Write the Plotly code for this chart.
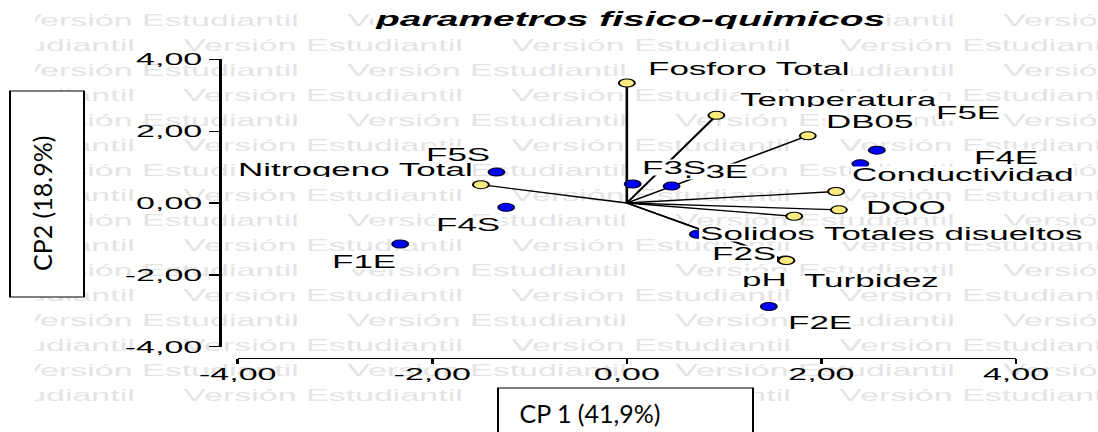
import plotly.graph_objects as go

# ---------------- data ----------------
var_names = ["Nitrogeno Total", "Fosforo Total", "Temperatura", "DB05",
             "Conductividad", "DQO", "Solidos Totales disueltos", "pH", "Turbidez"]
var_cp1 = [-1.50, 0.00, 0.92, 1.86, 2.15, 2.18, 1.72, 1.63, 1.64]
var_cp2 = [0.51, 3.34, 2.44, 1.87, 0.32, -0.19, -0.37, -1.59, -1.60]

sample_names = ["F1E", "F2E", "F3E", "F4E", "F5E", "F2S", "F3S", "F4S", "F5S"]
sample_cp1 = [-2.33, 1.46, 0.46, 2.40, 2.57, 0.73, 0.06, -1.24, -1.34]
sample_cp2 = [-1.14, -2.88, 0.47, 1.09, 1.47, -0.87, 0.53, -0.12, 0.86]

tick_vals = [-4, -2, 0, 2, 4]
tick_text = ["-4,00", "-2,00", "0,00", "2,00", "4,00"]

title_text = "parametros fisico-quimicos"
x_title = "CP 1 (41,9%)"
y_title = "CP2 (18.9%)"
watermark = "Versión Estudiantil"

# ---------------- layout / style ----------------
W_FINAL, H = 1098, 432
SX = 2.0                      # the original SPSS picture is stretched 2x horizontally
W = W_FINAL / SX
FONT = "Liberation Sans, Arial, sans-serif"
TITLE_FONT = "Lato, Carlito, Calibri, sans-serif"
YELLOW = "#fbeb7f"
BLUE = "#0000ff"
WM_COLOR = "#e4e4e4"

# label offsets in px (before the stretch): (xshift, yshift)
var_label_offsets = [(-62.5, 14.7), (61.4, 15.0), (60.9, 15.7), (31.2, 14.6),
                     (63.2, 17.4), (33.7, 2.7), (48.8, -17.3), (-11.2, -19.6), (42.3, -19.6)]
sample_label_offsets = [(-17.8, -17.8), (25.4, -15.9), (21.9, 14.6), (73.0, 6.0),
                        (45.9, 38.0), (22.8, -19.2), (21.0, 16.2), (-18.9, -17.3), (-19.2, 17.3)]


def fx(px):   # final pixel x -> paper fraction
    return px / W_FINAL


def fy(py):   # pixel y (from top) -> paper fraction
    return 1 - py / H


# background watermark pattern: centres in unstretched px
wm_x, wm_y = [], []
for k in range(17):
    yy = 21.7 + 25 * k
    centres = [79.5, 243.5, 407.5, 571.5] if k % 2 == 0 else [-2.5, 161.5, 325.5, 489.5]
    for c in centres:
        wm_x.append(c)
        wm_y.append(yy)

fig = go.Figure()

fig.add_trace(go.Scatter(
    x=wm_x, y=wm_y, mode="text", text=[watermark] * len(wm_x),
    textposition="middle center",
    textfont=dict(family=FONT, size=17, color=WM_COLOR),
    xaxis="x", yaxis="y", hoverinfo="skip", showlegend=False, cliponaxis=True))

# biplot vectors from origin
lx, ly = [], []
for a, b in zip(var_cp1, var_cp2):
    lx += [0, a, None]
    ly += [0, b, None]
fig.add_trace(go.Scatter(
    x=lx, y=ly, mode="lines", line=dict(color="black", width=1.3),
    xaxis="x2", yaxis="y2", hoverinfo="skip", showlegend=False, cliponaxis=False))

fig.add_trace(go.Scatter(
    x=var_cp1, y=var_cp2, mode="markers",
    marker=dict(size=8, color=YELLOW, line=dict(color="black", width=1)),
    xaxis="x2", yaxis="y2", showlegend=False, cliponaxis=False))

fig.add_trace(go.Scatter(
    x=sample_cp1, y=sample_cp2, mode="markers",
    marker=dict(size=8, color=BLUE, line=dict(color="#000033", width=1)),
    xaxis="x2", yaxis="y2", showlegend=False, cliponaxis=False))

annotations = []
for name, a, b, (dx, dy) in zip(var_names, var_cp1, var_cp2, var_label_offsets):
    annotations.append(dict(x=a, y=b, xref="x2", yref="y2", text=name, showarrow=False,
                            xshift=dx, yshift=dy, xanchor="center", yanchor="middle",
                            font=dict(family=FONT, size=17.5, color="black"),
                            bgcolor="white", borderpad=0, height=15))
for name, a, b, (dx, dy) in zip(sample_names, sample_cp1, sample_cp2, sample_label_offsets):
    annotations.append(dict(x=a, y=b, xref="x2", yref="y2", text=name, showarrow=False,
                            xshift=dx, yshift=dy, xanchor="center", yanchor="middle",
                            font=dict(family=FONT, size=17.5, color="black"),
                            bgcolor="white", borderpad=0, height=15))

annotations.append(dict(x=fx(629.5), y=fy(19.0), xref="paper", yref="paper", text=title_text,
                        showarrow=False, xanchor="center", yanchor="middle",
                        font=dict(family=FONT, size=19.5, color="black", weight="bold", style="italic"),
                        bgcolor="white", borderpad=0, height=20))
IDX_XT = len(annotations)
annotations.append(dict(x=fx(517), y=fy(413), xref="paper", yref="paper", text=x_title,
                        showarrow=False, xanchor="left", yanchor="middle", borderpad=0,
                        font=dict(family=TITLE_FONT, size=25, color="black")))
IDX_YT = len(annotations)
annotations.append(dict(x=fx(41), y=fy(203.5), xref="paper", yref="paper", text=y_title,
                        showarrow=False, xanchor="center", yanchor="middle", textangle=-90,
                        borderpad=0, font=dict(family=TITLE_FONT, size=25, color="black")))

shapes = [
    # white page margins that frame the watermark
    dict(type="rect", xref="paper", yref="paper", x0=fx(-5), x1=fx(35), y0=fy(440), y1=fy(-5),
         line=dict(width=0), fillcolor="white", layer="above"),
    dict(type="rect", xref="paper", yref="paper", x0=fx(-5), x1=fx(1105), y0=fy(440), y1=fy(414),
         line=dict(width=0), fillcolor="white", layer="above"),
    # axis-title boxes
    dict(type="rect", xref="paper", yref="paper", x0=fx(498), x1=fx(753), y0=fy(445), y1=fy(388),
         line=dict(color="black", width=1), fillcolor="white", layer="above"),
    dict(type="rect", xref="paper", yref="paper", x0=fx(10), x1=fx(84), y0=fy(297), y1=fy(91),
         line=dict(color="black", width=1), fillcolor="white", layer="above"),
]

axis_common = dict(range=[-4, 4], anchor="free", showline=True, linecolor="black", linewidth=1.3,
                   ticks="outside", ticklen=5, tickwidth=1.3, tickcolor="black",
                   tickmode="array", tickvals=tick_vals, ticktext=tick_text,
                   tickfont=dict(family=FONT, size=17, color="black"),
                   showgrid=False, zeroline=False, fixedrange=True, automargin=False)

fig.update_layout(
    width=W, height=H,
    margin=dict(l=0, r=0, t=0, b=0, pad=0),
    paper_bgcolor="white", plot_bgcolor="rgba(0,0,0,0)",
    showlegend=False,
    xaxis=dict(domain=[fx(35), 1], range=[17.5, W], visible=False, fixedrange=True),
    yaxis=dict(domain=[fy(416), fy(8)], range=[416, 8], visible=False, fixedrange=True),
    xaxis2=dict(domain=[fx(237.7), fx(1016)], position=fy(358), ticklabelstandoff=-5, **axis_common),
    yaxis2=dict(domain=[fy(346.7), fy(59.3)], position=fx(219), **axis_common),
    annotations=annotations, shapes=shapes,
)

post_js = """
var gd = document.getElementById('{plot_id}');
document.documentElement.style.margin = '0';
document.body.style.margin = '0';
document.body.style.overflow = 'hidden';
var NS = 'http://www.w3.org/2000/svg';
gd.querySelectorAll('.xtick text, .ytick text').forEach(function(t){
  var b = t.getBBox();
  var r = document.createElementNS(NS, 'rect');
  r.setAttribute('x', b.x - 1); r.setAttribute('y', b.y + 1);
  r.setAttribute('width', b.width + 2); r.setAttribute('height', Math.max(0, b.height - 2));
  r.setAttribute('fill', '#ffffff');
  var tr = t.getAttribute('transform'); if (tr) r.setAttribute('transform', tr);
  t.parentNode.insertBefore(r, t);
});
[[IDX_XT, 'left'], [IDX_YT, 'center']].forEach(function(p){
  var g = gd.querySelector('g.annotation[data-index="' + p[0] + '"]');
  if (!g) return;
  var b = g.getBBox();
  var cx = p[1] === 'left' ? b.x : b.x + b.width / 2;
  g.setAttribute('transform', 'translate(' + cx + ',0) scale(' + (1/SX) + ',1) translate(' + (-cx) + ',0)');
});
gd.style.transformOrigin = '0 0';
gd.style.transform = 'scaleX(' + SX + ')';
""".replace("IDX_XT", str(IDX_XT)).replace("IDX_YT", str(IDX_YT)).replace("SX", str(SX))

fig.write_html("out.html", post_script=post_js, config={"staticPlot": True})
